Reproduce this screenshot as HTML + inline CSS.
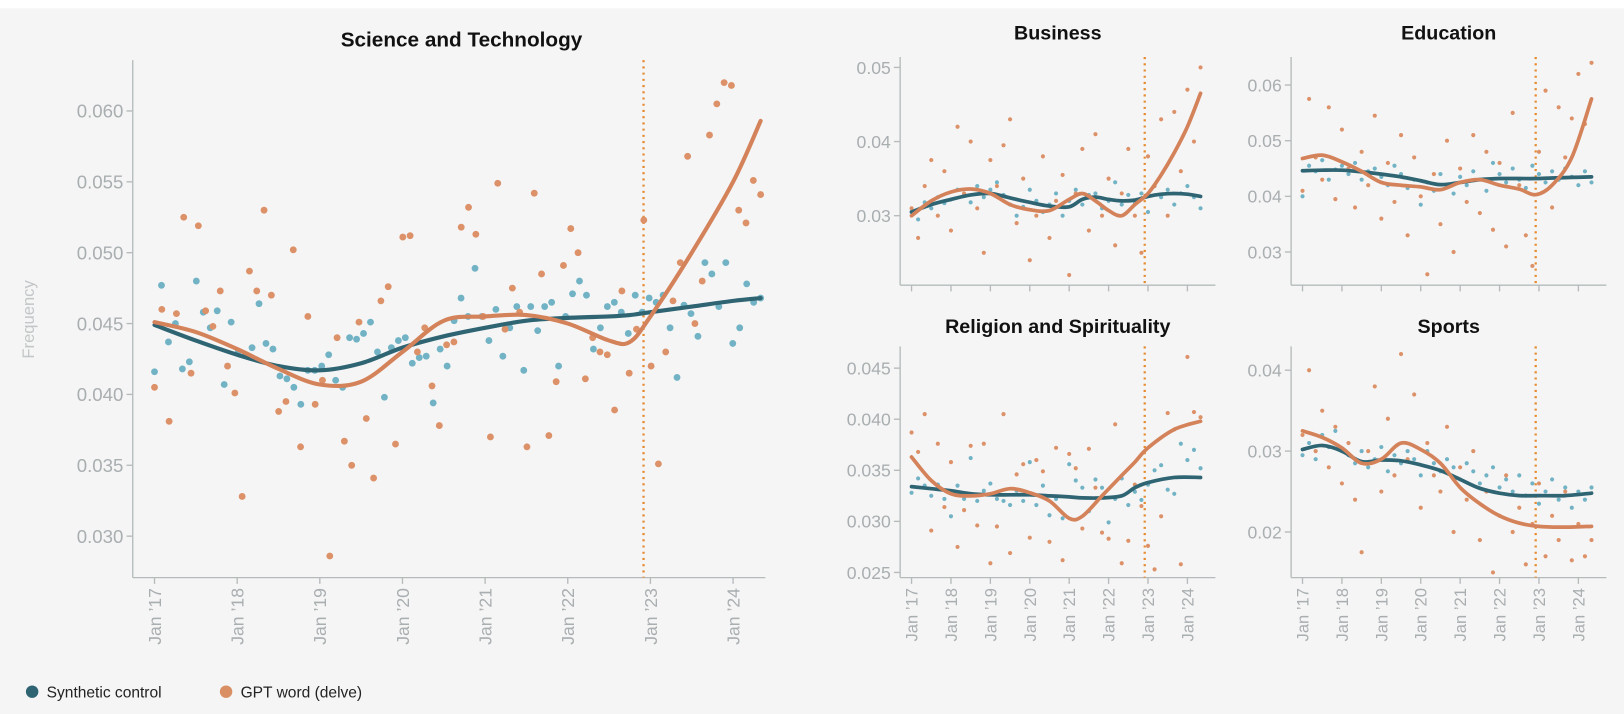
<!DOCTYPE html>
<html><head><meta charset="utf-8"><style>
html,body{margin:0;padding:0;background:#fff;}
svg{display:block;font-family:"Liberation Sans",Arial,sans-serif;}
</style></head><body>
<svg id="chart" width="1624" height="714" viewBox="0 0 1566 688.5" preserveAspectRatio="none" xmlns="http://www.w3.org/2000/svg">
<rect x="0" y="0" width="1566" height="688.5" fill="#ffffff"/>
<rect x="0" y="8" width="1566" height="681" fill="#f5f5f5"/>
<text x="33" y="308" transform="rotate(-90 33 308)" text-anchor="middle" font-size="16" fill="#c2c6c8">Frequency</text>
<g>
<circle cx="31" cy="667" r="6" fill="#2f6473"/>
<text x="45" y="672.5" font-size="15" fill="#222">Synthetic control</text>
<circle cx="218" cy="667" r="6" fill="#d98f63"/>
<text x="232" y="672.5" font-size="15" fill="#222">GPT word (delve)</text>
</g>
</svg>
<script>
// ---------- data ----------
const tickYears = ["Jan \u201917","Jan \u201918","Jan \u201919","Jan \u201920","Jan \u201921","Jan \u201922","Jan \u201923","Jan \u201924"];
const interventionMonth = 71;
const lastMonth = 88;

const sciTitle = "Science and Technology";
const sciTicks = [0.030,0.035,0.040,0.045,0.050,0.055,0.060];
const sciTickLabels = ["0.030","0.035","0.040","0.045","0.050","0.055","0.060"];
const sciBluePts = [.0416,.0477,.0437,.0450,.0418,.0423,.0480,.0458,.0447,.0459,.0407,.0451,.0430,.0428,.0433,.0464,.0436,.0432,.0413,.0411,.0405,.0393,.0417,.0417,.0420,.0428,.0410,.0405,.0440,.0439,.0443,.0451,.0430,.0398,.0433,.0438,.0440,.0422,.0426,.0427,.0394,.0432,.0420,.0452,.0468,.0455,.0489,.0455,.0438,.0460,.0427,.0447,.0462,.0417,.0462,.0445,.0462,.0465,.0420,.0455,.0471,.0480,.0470,.0432,.0447,.0462,.0465,.0458,.0443,.0470,.0458,.0468,.0465,.0470,.0447,.0412,.0463,.0457,.0441,.0493,.0485,.0462,.0493,.0436,.0447,.0478,.0465,.0468];
const sciOrangePts = [.0405,.0460,.0381,.0457,.0525,.0415,.0519,.0459,.0448,.0473,.0420,.0401,.0328,.0487,.0473,.0530,.0470,.0388,.0395,.0502,.0363,.0455,.0393,.0410,.0286,.0440,.0367,.0350,.0451,.0383,.0341,.0466,.0476,.0365,.0511,.0512,.0430,.0447,.0406,.0378,.0435,.0437,.0518,.0532,.0513,.0455,.0370,.0549,.0446,.0475,.0458,.0363,.0542,.0485,.0371,.0409,.0491,.0517,.0500,.0411,.0440,.0430,.0428,.0389,.0473,.0415,.0446,.0523,.0420,.0351,.0430,.0466,.0493,.0568,.0450,.0480,.0583,.0605,.0620,.0618,.0530,.0521,.0551,.0541];
const sciSmoothMonths = [0,6,12,18,24,30,36,42,48,54,60,66,69,72,78,84,88];
const sciBlueSmooth = [.0449,.0438,.0428,.0420,.0417,.0422,.0433,.0441,.0447,.0452,.0454,.0455,.0456,.0458,.0462,.0466,.0468];
const sciOrangeSmooth = [.0451,.0444,.0432,.0418,.0407,.0409,.0430,.0452,.0455,.0456,.0450,.0438,.0437,.0455,.0500,.0550,.0593];

const busTitle = "Business";
const busTicks = [0.03,0.04,0.05];
const busTickLabels = ["0.03","0.04","0.05"];
const busBluePts = [.0305,.0295,.0318,.0310,.0325,.0317,.0322,.0335,.0328,.0318,.0340,.0325,.0335,.0345,.0328,.0315,.0300,.0312,.0335,.0320,.0305,.0315,.0330,.0300,.0320,.0335,.0315,.0328,.0330,.0310,.0320,.0345,.0315,.0328,.0318,.0330,.0305,.0340,.0325,.0335,.0315,.0330,.0340,.0325,.0310];
const busOrangePts = [.0310,.0270,.0340,.0375,.0300,.0360,.0280,.0420,.0330,.0400,.0310,.0250,.0375,.0340,.0395,.0430,.0290,.0350,.0240,.0300,.0380,.0270,.0320,.0355,.0220,.0330,.0390,.0280,.0410,.0300,.0350,.0260,.0330,.0390,.0300,.0250,.0380,.0340,.0430,.0300,.0440,.0360,.0470,.0400,.0500];
const busSmoothMonths = [0,6,12,18,24,30,36,42,48,52,56,60,64,68,72,76,80,84,88];
const busBlueSmooth = [.0305,.0315,.0322,.0328,.0330,.0324,.0318,.0313,.0312,.0322,.0325,.0322,.0320,.0321,.0326,.0329,.0330,.0329,.0326];
const busOrangeSmooth = [.0300,.0320,.0332,.0336,.0330,.0315,.0308,.0307,.0322,.0330,.0320,.0307,.0300,.0315,.0330,.0355,.0385,.0420,.0465];

const eduTitle = "Education";
const eduTicks = [0.03,0.04,0.05,0.06];
const eduTickLabels = ["0.03","0.04","0.05","0.06"];
const eduBluePts = [.0400,.0455,.0445,.0465,.0430,.0448,.0455,.0440,.0460,.0430,.0445,.0450,.0435,.0420,.0455,.0440,.0415,.0430,.0385,.0425,.0410,.0440,.0420,.0405,.0435,.0420,.0445,.0430,.0410,.0460,.0440,.0425,.0450,.0430,.0415,.0455,.0440,.0425,.0445,.0430,.0450,.0435,.0420,.0445,.0425];
const eduOrangePts = [.0410,.0575,.0470,.0430,.0560,.0395,.0520,.0450,.0380,.0480,.0420,.0545,.0360,.0460,.0390,.0510,.0330,.0470,.0400,.0260,.0440,.0350,.0500,.0300,.0450,.0390,.0510,.0370,.0480,.0340,.0460,.0310,.0550,.0420,.0330,.0275,.0480,.0590,.0380,.0560,.0470,.0540,.0620,.0530,.0640];
const eduSmoothMonths = [0,6,12,18,24,30,36,42,48,54,60,66,71,76,82,88];
const eduBlueSmooth = [.0446,.0447,.0447,.0444,.0440,.0435,.0428,.0421,.0425,.0430,.0432,.0432,.0432,.0433,.0434,.0435];
const eduOrangeSmooth = [.0468,.0474,.0462,.0445,.0425,.0420,.0417,.0412,.0425,.0430,.0420,.0413,.0403,.0420,.0470,.0575];

const relTitle = "Religion and Spirituality";
const relTicks = [0.025,0.030,0.035,0.040,0.045];
const relTickLabels = ["0.025","0.030","0.035","0.040","0.045"];
const relBluePts = [.0328,.0342,.0335,.0325,.0336,.0322,.0305,.0335,.0322,.0362,.0320,.0330,.0337,.0322,.0320,.0316,.0330,.0320,.0358,.0316,.0335,.0306,.0322,.0303,.0356,.0340,.0333,.0310,.0341,.0333,.0299,.0322,.0342,.0316,.0329,.0321,.0336,.0350,.0355,.0331,.0327,.0376,.0360,.0370,.0352];
const relOrangePts = [.0387,.0368,.0405,.0291,.0376,.0314,.0358,.0275,.0311,.0374,.0296,.0376,.0259,.0295,.0405,.0269,.0346,.0356,.0284,.0360,.0349,.0280,.0372,.0262,.0366,.0352,.0293,.0371,.0333,.0289,.0283,.0395,.0259,.0281,.0336,.0315,.0276,.0253,.0305,.0406,.0390,.0258,.0461,.0407,.0402];
const relSmoothMonths = [0,6,12,18,24,30,36,42,48,52,58,64,68,72,80,88];
const relBlueSmooth = [.0334,.0332,.0330,.0327,.0326,.0326,.0326,.0325,.0324,.0323,.0323,.0325,.0333,.0338,.0343,.0343];
const relOrangeSmooth = [.0363,.0340,.0327,.0325,.0327,.0332,.0328,.0320,.0303,.0305,.0325,.0345,.0358,.0372,.0390,.0398];

const spoTitle = "Sports";
const spoTicks = [0.02,0.03,0.04];
const spoTickLabels = ["0.02","0.03","0.04"];
const spoBluePts = [.0295,.0310,.0290,.0320,.0305,.0325,.0300,.0295,.0285,.0300,.0280,.0290,.0305,.0275,.0295,.0285,.0300,.0290,.0270,.0300,.0285,.0275,.0290,.0280,.0265,.0285,.0275,.0260,.0270,.0280,.0255,.0265,.0250,.0270,.0245,.0260,.0235,.0250,.0265,.0240,.0255,.0230,.0250,.0240,.0255];
const spoOrangePts = [.0320,.0400,.0300,.0350,.0280,.0330,.0260,.0310,.0240,.0175,.0300,.0380,.0250,.0340,.0270,.0420,.0290,.0370,.0230,.0310,.0270,.0250,.0330,.0200,.0280,.0240,.0300,.0190,.0250,.0150,.0220,.0270,.0200,.0230,.0160,.0210,.0260,.0170,.0220,.0190,.0250,.0165,.0210,.0170,.0190];
const spoSmoothMonths = [0,6,12,18,24,30,36,42,48,54,60,66,72,80,88];
const spoBlueSmooth = [.0302,.0307,.0300,.0287,.0289,.0288,.0283,.0276,.0265,.0254,.0248,.0245,.0245,.0245,.0248];
const spoOrangeSmooth = [.0325,.0317,.0304,.0285,.0290,.0310,.0302,.0285,.0255,.0235,.0220,.0211,.0207,.0206,.0207];

// ---------- render ----------
const NS = "http://www.w3.org/2000/svg";
const svg = document.getElementById("chart");
function mk(tag, attrs, parent){const e=document.createElementNS(NS,tag);for(const k in attrs)e.setAttribute(k,attrs[k]);(parent||svg).appendChild(e);return e;}
function curvePath(pts){
  let d="M"+pts[0][0].toFixed(2)+","+pts[0][1].toFixed(2);
  for(let i=0;i<pts.length-1;i++){
    const p0=pts[Math.max(0,i-1)],p1=pts[i],p2=pts[i+1],p3=pts[Math.min(pts.length-1,i+2)];
    const c1=[p1[0]+(p2[0]-p0[0])/6,p1[1]+(p2[1]-p0[1])/6];
    const c2=[p2[0]-(p3[0]-p1[0])/6,p2[1]-(p3[1]-p1[1])/6];
    d+=" C"+c1[0].toFixed(2)+","+c1[1].toFixed(2)+" "+c2[0].toFixed(2)+","+c2[1].toFixed(2)+" "+p2[0].toFixed(2)+","+p2[1].toFixed(2);
  }
  return d;
}
function panel(cfg){
  const g=mk("g",{});
  
  
  const ys=v=>cfg.y0px+(v-cfg.y0v)*(cfg.y1px-cfg.y0px)/(cfg.y1v-cfg.y0v);
  const xs=m=>cfg.x0+m*cfg.dx/12;
  const t=mk("text",{x:cfg.titleX,y:cfg.titleY,"text-anchor":"middle","font-size":cfg.titleSize,"font-weight":"bold",fill:"#111"},g);
  t.textContent=cfg.title;
  
  
  const ax="#b5babc";
  const yl=mk("line",{x1:cfg.ax,y1:cfg.top,x2:cfg.ax,y2:cfg.bottom,stroke:ax,"stroke-width":1.3},g);
  
  
  const xl=mk("line",{x1:cfg.ax,y1:cfg.bottom,x2:cfg.right,y2:cfg.bottom,stroke:ax,"stroke-width":1.3},g);
  
  
  cfg.ticks.forEach((v,i)=>{
    const y=ys(v);
    mk("line",{x1:cfg.ax-6,y1:y,x2:cfg.ax,y2:y,stroke:ax,"stroke-width":1.3},g);
    const tl=mk("text",{x:cfg.ax-9,y:y+cfg.tickSize*0.36,"text-anchor":"end","font-size":cfg.tickSize,fill:"#a9aeb1"},g);
    tl.textContent=cfg.tickLabels[i];
    
    
  });
  tickYears.forEach((lab,i)=>{
    const x=xs(i*12);
    mk("line",{x1:x,y1:cfg.bottom,x2:x,y2:cfg.bottom+6,stroke:ax,"stroke-width":1.3},g);
    if(!cfg.xLabels) return;
    const ty=cfg.bottom+10;
    const tl=mk("text",{x:x+cfg.xTickSize*0.36,y:ty,"text-anchor":"end","font-size":cfg.xTickSize,fill:"#a9aeb1",transform:`rotate(-90 ${x+cfg.xTickSize*0.36} ${ty})`},g);
    tl.textContent=lab;
    
    
  });
  const vx=xs(interventionMonth);
  const vl=mk("line",{x1:vx,y1:cfg.top,x2:vx,y2:cfg.bottom,stroke:"#e58a2e","stroke-width":2.2,"stroke-dasharray":"2 4"},g);
  
  
  const pts=(arr,col)=>{arr.forEach((v,i)=>{
    const m=i*lastMonth/(arr.length-1);
    const c=mk("circle",{cx:xs(m),cy:ys(v),r:cfg.r,fill:col},g);
    
    
  });};
  pts(cfg.bluePts,"#71b3c5");
  pts(cfg.orangePts,"#dc9168");
  const bl=mk("path",{d:curvePath(cfg.months.map((m,i)=>[xs(m),ys(cfg.blueS[i])])),fill:"none",stroke:"#2f6473","stroke-width":cfg.lw,"stroke-linecap":"round"},g);
  
  
  const ol=mk("path",{d:curvePath(cfg.months.map((m,i)=>[xs(m),ys(cfg.orangeS[i])])),fill:"none",stroke:"#d4825a","stroke-width":cfg.lw,"stroke-linecap":"round"},g);
  
  
}
const L=0, R=377;
panel({name:"science-technology-panel",title:sciTitle,titleX:445,titleY:45,titleSize:20,ax:128,top:58,bottom:557,right:738,xLabels:true,
  x0:149,dx:79.7,y0v:0.030,y0px:517,y1v:0.060,y1px:107,ticks:sciTicks,tickLabels:sciTickLabels,tickSize:18,xTickSize:17,r:3.3,lw:4,
  bluePts:sciBluePts,orangePts:sciOrangePts,months:sciSmoothMonths,blueS:sciBlueSmooth,orangeS:sciOrangeSmooth});
panel({name:"business-panel",title:busTitle,titleX:1020+L,titleY:38,titleSize:19,ax:868,top:55,bottom:275,right:1172,xLabels:false,
  x0:879,dx:38,y0v:0.03,y0px:208,y1v:0.05,y1px:65,ticks:busTicks,tickLabels:busTickLabels,tickSize:17,xTickSize:16,r:2,lw:3.6,
  bluePts:busBluePts,orangePts:busOrangePts,months:busSmoothMonths,blueS:busBlueSmooth,orangeS:busOrangeSmooth});
panel({name:"education-panel",title:eduTitle,titleX:1020+R,titleY:38,titleSize:19,ax:868+R,top:55,bottom:275,right:1172+R,xLabels:false,
  x0:879+R,dx:38,y0v:0.03,y0px:243,y1v:0.06,y1px:82,ticks:eduTicks,tickLabels:eduTickLabels,tickSize:17,xTickSize:16,r:2,lw:3.6,
  bluePts:eduBluePts,orangePts:eduOrangePts,months:eduSmoothMonths,blueS:eduBlueSmooth,orangeS:eduOrangeSmooth});
panel({name:"religion-spirituality-panel",title:relTitle,titleX:1020+L,titleY:321,titleSize:19,ax:868,top:334,bottom:557,right:1172,xLabels:true,
  x0:879,dx:38,y0v:0.025,y0px:552,y1v:0.045,y1px:355,ticks:relTicks,tickLabels:relTickLabels,tickSize:17,xTickSize:16,r:2,lw:3.6,
  bluePts:relBluePts,orangePts:relOrangePts,months:relSmoothMonths,blueS:relBlueSmooth,orangeS:relOrangeSmooth});
panel({name:"sports-panel",title:spoTitle,titleX:1020+R,titleY:321,titleSize:19,ax:868+R,top:334,bottom:557,right:1172+R,xLabels:true,
  x0:879+R,dx:38,y0v:0.02,y0px:513,y1v:0.04,y1px:357,ticks:spoTicks,tickLabels:spoTickLabels,tickSize:17,xTickSize:16,r:2,lw:3.6,
  bluePts:spoBluePts,orangePts:spoOrangePts,months:spoSmoothMonths,blueS:spoBlueSmooth,orangeS:spoOrangeSmooth});
</script>
</body></html>
